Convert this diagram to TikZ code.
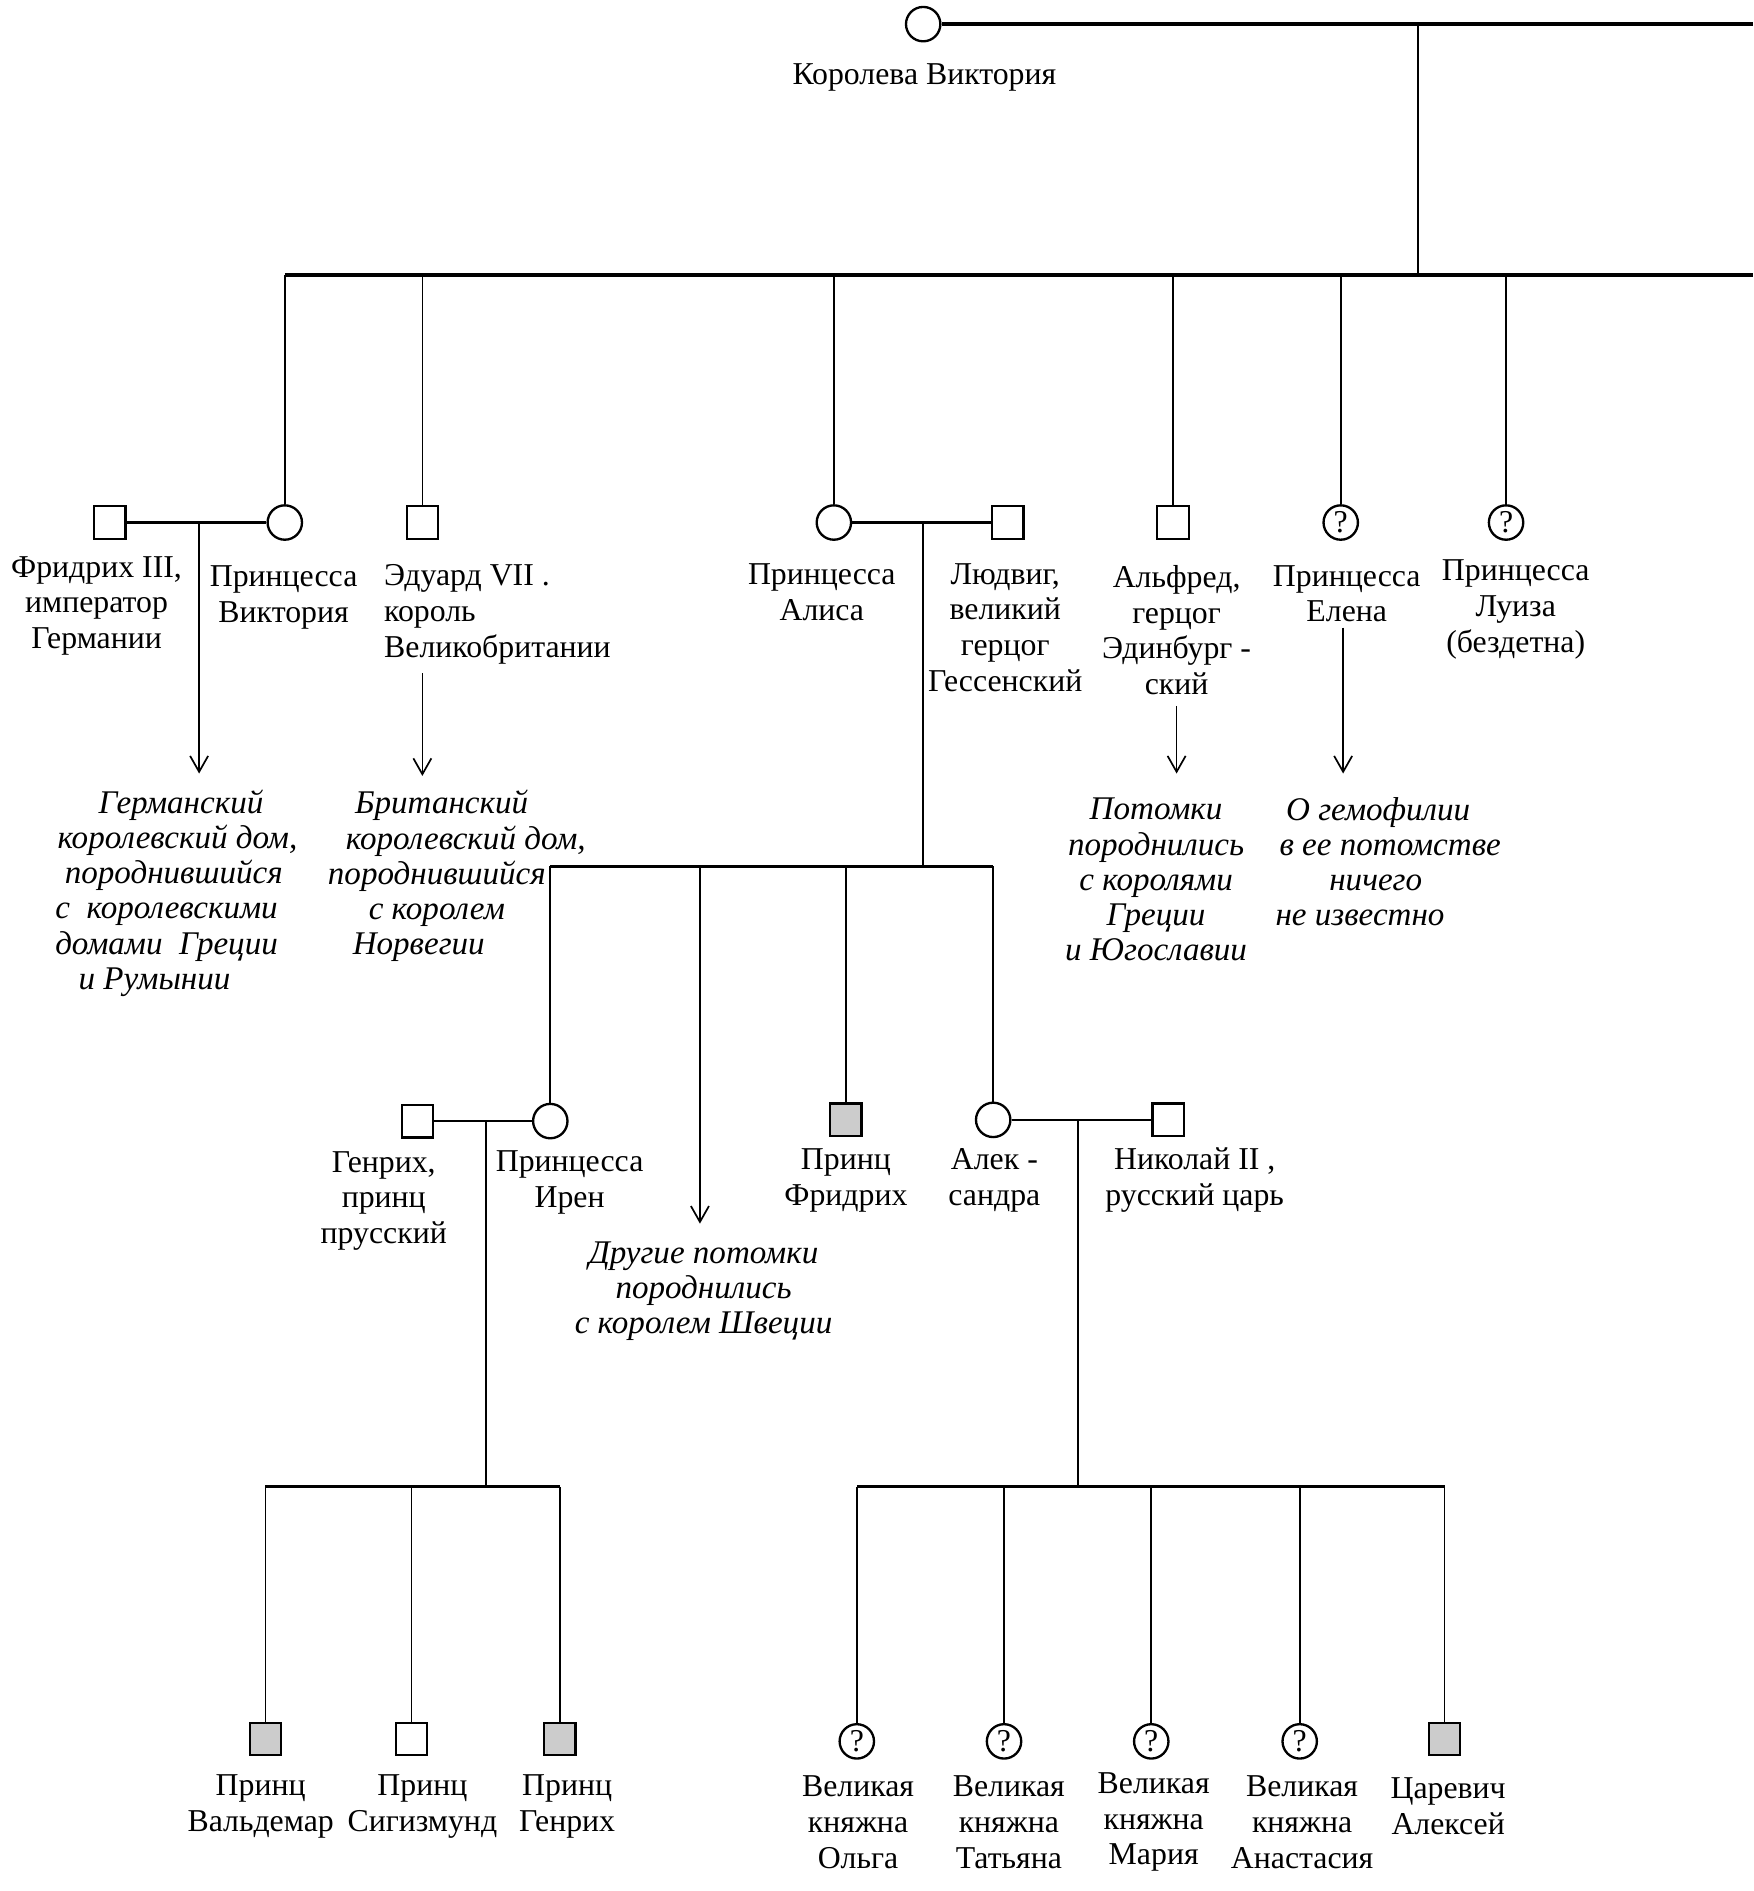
\documentclass[tikz,border=0pt]{standalone}
\usepackage{fontspec}
\setmainfont{Liberation Serif}
\usetikzlibrary{arrows.meta}
\begin{document}
\begin{tikzpicture}[x=0.02cm,y=-0.02cm,
  conn/.style={line width=0.8pt},
  bar/.style={line width=1.6pt},
  marr/.style={line width=1.3pt},
  male/.style={draw,line width=1.1pt,minimum width=0.52cm,minimum height=0.54cm,inner sep=0pt},
  female/.style={draw,circle,line width=1.1pt,minimum size=0.57cm,inner sep=0pt},
  unk/.style={female,font=\fontsize{15}{15}\selectfont},
  aff/.style={fill=gray!40},
  lbl/.style={align=center,inner sep=0pt,font=\fontsize{15}{16.8}\selectfont},
  note/.style={align=center,inner sep=0pt,font=\fontsize{15.6}{16.6}\selectfont\itshape},
  arr/.style={conn,-{Straight Barb[length=7.5pt,width=8.5pt]}}
]
\useasboundingbox (0,0) rectangle (1453,1567);

% ---- generation 0
\node[female] (victoria) at (765,20) {};
\node[lbl] (victorialbl) at (766,64) {Королева Виктория};
\coordinate (topend) at (1453,20);
\coordinate (topj) at (1175,20);
\coordinate (gjoin) at (1175,228);
\coordinate (gL) at (236,228);
\coordinate (gR) at (1453,228);
\draw[bar] (victoria) -- (topend);
\draw[conn] (topj) -- (gjoin);
\draw[bar] (gL) -- (gR);

% ---- generation 1
\node[male] (fried) at (91,433) {};
\node[female] (pvic) at (236,433) {};
\node[male] (edw) at (350,433) {};
\node[female] (alice) at (691,433) {};
\node[male] (ludwig) at (835,433) {};
\node[male] (alfred) at (972,433) {};
\node[unk] (helena) at (1111,433) {?};
\node[unk] (louise) at (1248,433) {?};

\coordinate (cEdw) at (350,228);
\coordinate (cAli) at (691,228);
\coordinate (cAlf) at (972,228);
\coordinate (cHel) at (1111,228);
\coordinate (cLou) at (1248,228);
\draw[conn] (gL) -- (pvic);
\draw[conn] (cEdw) -- (edw);
\draw[conn] (cAli) -- (alice);
\draw[conn] (cAlf) -- (alfred);
\draw[conn] (cHel) -- (helena);
\draw[conn] (cLou) -- (louise);

\draw[marr] (fried) -- (pvic);
\draw[marr] (alice) -- (ludwig);

\node[lbl] (friedlbl) at (80,502) {Фридрих III,\\император\\Германии};
\node[lbl] (pviclbl) at (235,495) {Принцесса\\Виктория};
\node[lbl,align=left,anchor=west] (edwlbl) at (318,509) {Эдуард VII .\\король\\Великобритании};
\node[lbl] (alicelbl) at (681,491) {Принцесса\\Алиса};
\node[lbl] (ludwiglbl) at (833,520) {Людвиг,\\великий\\герцог\\Гессенский};
\node[lbl] (alfredlbl) at (975,522) {Альфред,\\герцог\\Эдинбург -\\ский};
\node[lbl] (helenalbl) at (1116,492) {Принцесса\\Елена};
\node[lbl] (louiselbl) at (1256,505) {Принцесса\\Луиза\\(бездетна)};

% arrows to descendants
\coordinate (vicm) at (165,433);
\coordinate (vica) at (165,641);
\draw[arr] (vicm) -- (vica);
\coordinate (edwa1) at (350,558);
\coordinate (edwa2) at (350,643);
\draw[arr] (edwa1) -- (edwa2);
\coordinate (alfa1) at (975,585);
\coordinate (alfa2) at (975,641);
\draw[arr] (alfa1) -- (alfa2);
\coordinate (hela1) at (1113,520);
\coordinate (hela2) at (1113,641);
\draw[arr] (hela1) -- (hela2);

\node[note] (gernote) at (138,740) {\hspace*{0.48cm}Германский\\\hspace*{0.36cm}королевский дом,\\\hspace*{0.24cm}породнившийся\\с~~королевскими\hspace*{0.24cm}\\домами~~Греции\hspace*{0.44cm}\\и Румынии\hspace*{0.4cm}};
\node[note] (brinote) at (362,726) {\hspace*{0.16cm}Британский\\\hspace*{0.96cm}королевский дом,\\породнившийся\hspace*{0.2cm}\\с королем\hspace*{0.4cm}\\Норвегии\hspace*{0.6cm}};
\node[note] (alfnote) at (958,729) {Потомки\\породнились\\с королями\\Греции\\и Югославии};
\node[note] (helnote) at (1140,714) {\hspace*{0.08cm}О гемофилии\\\hspace*{0.48cm}в ее потомстве\\ничего\hspace*{0.08cm}\\не известно\hspace*{0.52cm}};

% ---- Alice's children
\coordinate (alm) at (765,433);
\coordinate (alj) at (765,718);
\coordinate (aL) at (456,718);
\coordinate (aR) at (823,718);
\draw[conn] (alm) -- (alj);
\draw[bar] (aL) -- (aR);

\node[male] (heinrich) at (346,929) {};
\node[female] (irene) at (456,929) {};
\node[male,aff] (fried2) at (701,928) {};
\node[female] (alexandra) at (823,928) {};
\node[male] (nicholas) at (968,928) {};

\coordinate (cSwe) at (580,718);
\coordinate (cSwe2) at (580,1014);
\coordinate (cFr2) at (701,718);
\draw[conn] (aL) -- (irene);
\draw[arr] (cSwe) -- (cSwe2);
\draw[conn] (cFr2) -- (fried2);
\draw[conn] (aR) -- (alexandra);

\draw[marr] (heinrich) -- (irene);
\draw[marr] (alexandra) -- (nicholas);

\node[lbl] (heinlbl) at (318,995) {Генрих,\\принц\\прусский};
\node[lbl] (irenelbl) at (472,980) {Принцесса\\Ирен};
\node[lbl] (fried2lbl) at (701,978) {Принц\\Фридрих};
\node[lbl] (alexlbl) at (824,978) {Алек -\\сандра};
\node[lbl] (nicklbl) at (990,978) {Николай II ,\\русский царь};
\node[note] (swenote) at (583,1070) {Другие потомки\\породнились\\с королем Швеции};

% ---- grandchildren
\coordinate (irm) at (403,929);
\coordinate (irj) at (403,1232);
\coordinate (iL) at (220,1232);
\coordinate (iR) at (464,1232);
\coordinate (iM) at (341,1232);
\draw[conn] (irm) -- (irj);
\draw[bar] (iL) -- (iR);

\coordinate (nim) at (893,928);
\coordinate (nij) at (893,1232);
\coordinate (nL) at (710,1232);
\coordinate (nR) at (1197,1232);
\coordinate (nT) at (832,1232);
\coordinate (nM) at (954,1232);
\coordinate (nA) at (1077,1232);
\draw[conn] (nim) -- (nij);
\draw[bar] (nL) -- (nR);

\node[male,aff] (waldemar) at (220,1441) {};
\node[male] (sigismund) at (341,1441) {};
\node[male,aff] (heinrich2) at (464,1441) {};
\node[unk] (olga) at (710,1443) {?};
\node[unk] (tatiana) at (832,1443) {?};
\node[unk] (maria) at (954,1443) {?};
\node[unk] (anastasia) at (1077,1443) {?};
\node[male,aff] (alexei) at (1197,1441) {};

\draw[conn] (iL) -- (waldemar);
\draw[conn] (iM) -- (sigismund);
\draw[conn] (iR) -- (heinrich2);
\draw[conn] (nL) -- (olga);
\draw[conn] (nT) -- (tatiana);
\draw[conn] (nM) -- (maria);
\draw[conn] (nA) -- (anastasia);
\draw[conn] (nR) -- (alexei);

\node[lbl] (waldlbl) at (216,1497) {Принц\\Вальдемар};
\node[lbl] (siglbl) at (350,1497) {Принц\\Сигизмунд};
\node[lbl] (hein2lbl) at (470,1497) {Принц\\Генрих};
\node[lbl] (olgalbl) at (711,1510) {Великая\\княжна\\Ольга};
\node[lbl] (tatlbl) at (836,1510) {Великая\\княжна\\Татьяна};
\node[lbl] (marlbl) at (956,1510) {Великая\\княжна\\Мария};
\node[lbl] (analbl) at (1079,1510) {Великая\\княжна\\Анастасия};
\node[lbl] (alexlbl2) at (1200,1497) {Царевич\\Алексей};
\end{tikzpicture}
\end{document}
